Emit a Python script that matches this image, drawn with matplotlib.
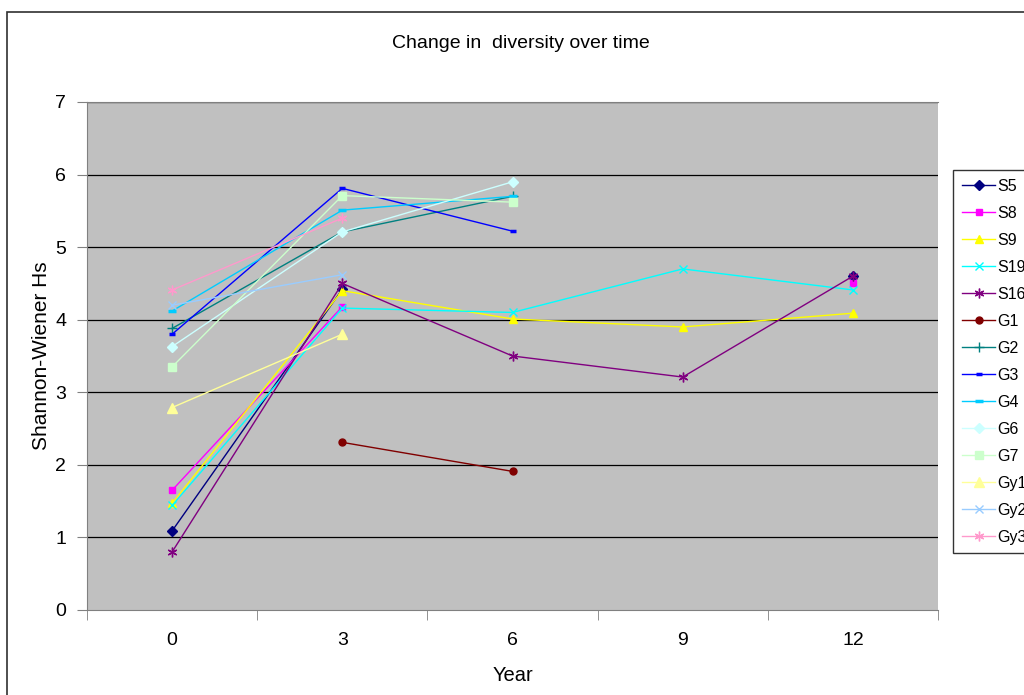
import numpy as np
import matplotlib.pyplot as plt
from matplotlib.patches import Rectangle

plt.rcParams['font.family'] = ['Liberation Sans', 'DejaVu Sans']

nan = np.nan
years = ['0', '3', '6', '9', '12']

# Shannon-Wiener index per site, NaN where no sample
S5 = [1.09, 4.42, nan, nan, 4.60]
S8 = [1.65, 4.18, nan, nan, 4.50]
S9 = [1.47, 4.40, 4.01, 3.90, 4.09]
S19 = [1.44, 4.16, 4.10, 4.70, 4.41]
S16 = [0.80, 4.50, 3.50, 3.21, 4.60]
G1 = [nan, 2.31, 1.91, nan, nan]
G2 = [3.88, 5.21, 5.70, nan, nan]
G3 = [3.80, 5.81, 5.22, nan, nan]
G4 = [4.12, 5.51, 5.70, nan, nan]
G6 = [3.63, 5.21, 5.90, nan, nan]
G7 = [3.35, 5.71, 5.62, nan, nan]
Gy1 = [2.79, 3.80, nan, nan, nan]
Gy2 = [4.20, 4.62, nan, nan, nan]
Gy3 = [4.41, 5.40, nan, nan, nan]

asterisk = (6, 2, 0)
series = [
    ('S5', S5, '#000080', 'D', 5),
    ('S8', S8, '#FF00FF', 's', 5),
    ('S9', S9, '#FFFF00', '^', 6),
    ('S19', S19, '#00FFFF', 'x', 6),
    ('S16', S16, '#800080', asterisk, 7),
    ('G1', G1, '#800000', 'o', 5),
    ('G2', G2, '#008080', '+', 7),
    ('G3', G3, '#0000FF', '_', 4),
    ('G4', G4, '#00CCFF', '_', 6),
    ('G6', G6, '#CCFFFF', 'D', 5),
    ('G7', G7, '#CCFFCC', 's', 6),
    ('Gy1', Gy1, '#FFFF99', '^', 7),
    ('Gy2', Gy2, '#99CCFF', 'x', 6),
    ('Gy3', Gy3, '#FF99CC', asterisk, 7),
]

fig = plt.figure(figsize=(10.24, 6.95), dpi=100)
ax = fig.add_axes([87/1024, 1 - 610/695, (938 - 87)/1024, (610 - 102)/695])

# outer chart border
fig.patches.append(Rectangle((7/1024, -0.1), 1.2, (695 - 12)/695 + 0.1,
                             transform=fig.transFigure, fill=False,
                             edgecolor='#303030', linewidth=1.2))

ax.set_facecolor('#C0C0C0')
x = np.arange(len(years))
for name, vals, col, mk, ms in series:
    mew = 2.5 if mk == '_' else 1.0
    ax.plot(x, vals, color=col, linewidth=1.0, marker=mk, markersize=ms,
            markerfacecolor=col, markeredgecolor=col, markeredgewidth=mew,
            label=name)

ax.set_xlim(-0.5, 4.5)
ax.set_ylim(0, 7)
ax.set_yticks(range(0, 8))
for yv in range(1, 8):
    ax.axhline(yv, color='black', linewidth=0.9, zorder=0.5)
ax.set_xticks(x)
ax.set_xticklabels(years)
ax.set_xticks(np.arange(-0.5, 4.6, 1), minor=True)
ax.tick_params(axis='x', which='major', length=0, pad=16, labelsize=14)
ax.tick_params(axis='x', which='minor', length=7, color='#808080', direction='out')
ax.tick_params(axis='y', length=7, color='#808080', labelsize=14, pad=8)

for side in ['left', 'bottom', 'top', 'right']:
    ax.spines[side].set_color('#808080')
ax.spines['right'].set_visible(False)

fig.text(521/1024, 1 - 44/695, 'Change in  diversity over time',
         fontsize=14, ha='center', va='center')
ax.set_xlabel('Year', fontsize=14.5, labelpad=12)
ax.set_ylabel('Shannon-Wiener Hs', fontsize=15, labelpad=3)

leg = ax.legend(loc='upper left', bbox_to_anchor=(953/1024, 1 - 170/695),
                bbox_transform=fig.transFigure, frameon=True, fancybox=False,
                edgecolor='black', fontsize=11.5, handlelength=2.1,
                handletextpad=0.15, labelspacing=0.75, borderpad=0.55,
                borderaxespad=0)
leg.get_frame().set_linewidth(1.0)

fig.savefig('out.png', dpi=100)
